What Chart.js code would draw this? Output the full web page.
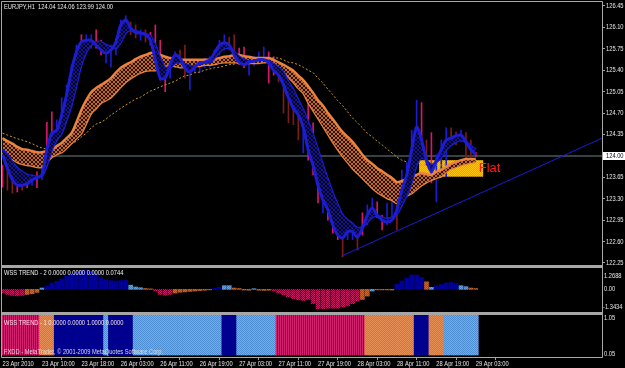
<!DOCTYPE html>
<html>
<head>
<meta charset="utf-8">
<script src="https://cdn.jsdelivr.net/npm/chart.js@4.4.0/dist/chart.umd.min.js"></script>
<style>
html, body { margin: 0; padding: 0; background: #000; }
#wrap { position: relative; width: 625px; height: 368px; background: #000; overflow: hidden; }
.pane { position: absolute; left: 0; }
.sep { position: absolute; left: 1px; width: 602px; background: #a6a6a6; }
</style>
</head>
<body>
<div id="wrap">
  <canvas id="mainChart" class="pane" style="top:0" width="625" height="265"></canvas>
  <div class="sep" style="top:265px;height:3px"></div>
  <canvas id="histChart" class="pane" style="top:268px" width="625" height="44"></canvas>
  <div class="sep" style="top:312px;height:3px"></div>
  <canvas id="bandChart" class="pane" style="top:315px" width="625" height="53"></canvas>
</div>
<script>
// EURJPY H1, 23 Apr 2010 02:00 .. 29 Apr 03:00, one entry per bar
const xLabels = ['23 Apr 2010', '23 Apr 10:00', '23 Apr 18:00', '26 Apr 03:00', '26 Apr 11:00', '26 Apr 19:00',
  '27 Apr 03:00', '27 Apr 11:00', '27 Apr 19:00', '28 Apr 03:00', '28 Apr 11:00', '28 Apr 19:00', '29 Apr 03:00'];
const xLabelBars = [0, 8, 16, 24, 32, 40, 48, 56, 64, 72, 80, 88, 96];
const xMin = -0.1, xMax = 121.6;

const yTicks = [126.45, 126.10, 125.75, 125.40, 125.05, 124.70, 124.35, 124.00, 123.65, 123.30, 122.95, 122.60, 122.25];
const yMin = 122.217, yMax = 126.515;

// fast MA ribbon (blue), edges
const blueFast = [124.02,123.80,123.61,123.52,123.52,123.54,123.61,123.64,123.69,124.10,
  124.37,124.42,124.67,125.00,125.40,125.70,125.86,125.89,125.89,125.81,
  125.73,125.68,125.73,125.86,126.14,126.22,126.09,126.01,126.01,125.98,
  125.89,125.57,125.27,125.27,125.49,125.65,125.60,125.44,125.37,125.45,
  125.52,125.53,125.57,125.68,125.81,125.85,125.81,125.65,125.53,125.49,
  125.53,125.55,125.57,125.57,125.52,125.40,125.32,125.16,124.95,124.78,
  124.67,124.47,124.10,123.85,123.52,123.28,123.12,122.87,122.71,122.66,
  122.76,122.76,122.67,122.82,123.03,123.15,123.03,122.95,122.92,122.95,
  123.12,123.44,123.69,124.10,124.47,124.26,123.93,123.74,123.93,124.10,
  124.26,124.29,124.33,124.34,124.23,124.10,124.02];
const blueSlow = [124.10,124.02,123.90,123.80,123.74,123.69,123.67,123.66,123.67,123.85,
  124.10,124.26,124.37,124.59,124.83,125.16,125.49,125.70,125.81,125.86,
  125.86,125.81,125.78,125.76,125.86,126.01,126.06,126.04,126.01,125.99,
  125.96,125.81,125.60,125.44,125.44,125.52,125.53,125.50,125.47,125.47,
  125.50,125.52,125.53,125.60,125.70,125.76,125.76,125.70,125.62,125.57,
  125.55,125.55,125.57,125.57,125.55,125.50,125.44,125.36,125.21,125.08,
  124.91,124.75,124.55,124.34,124.10,123.85,123.61,123.39,123.20,123.03,
  122.95,122.89,122.82,122.84,122.92,123.00,123.02,122.99,122.97,122.99,
  123.05,123.20,123.36,123.57,123.85,123.97,123.93,123.85,123.90,123.98,
  124.10,124.18,124.23,124.26,124.23,124.16,124.10];

// slow MA ribbon (orange), edges
const orangeTop = [124.29,124.24,124.20,124.15,124.11,124.10,124.08,124.06,124.06,124.08,
  124.11,124.16,124.21,124.29,124.37,124.55,124.75,124.91,125.04,125.11,
  125.16,125.21,125.27,125.36,125.44,125.49,125.53,125.58,125.62,125.65,
  125.68,125.68,125.65,125.62,125.60,125.58,125.57,125.57,125.57,125.57,
  125.57,125.57,125.57,125.58,125.60,125.62,125.63,125.65,125.65,125.63,
  125.62,125.60,125.60,125.60,125.60,125.57,125.53,125.49,125.44,125.39,
  125.31,125.24,125.14,125.03,124.91,124.82,124.70,124.60,124.49,124.39,
  124.31,124.23,124.13,124.02,123.93,123.87,123.80,123.75,123.69,123.64,
  123.57,123.59,123.62,123.66,123.69,123.72,123.70,123.69,123.74,123.77,
  123.82,123.87,123.90,123.93,123.95,123.95,123.95];
const orangeBot = [124.05,124.00,123.95,123.90,123.87,123.85,123.84,123.82,123.82,123.90,
  123.98,124.03,124.06,124.13,124.21,124.29,124.37,124.54,124.70,124.78,
  124.87,124.91,124.96,125.04,125.13,125.21,125.27,125.32,125.36,125.39,
  125.40,125.40,125.44,125.47,125.49,125.47,125.45,125.45,125.45,125.47,
  125.47,125.49,125.49,125.50,125.52,125.53,125.53,125.53,125.53,125.53,
  125.52,125.52,125.52,125.53,125.53,125.49,125.44,125.37,125.29,125.21,
  125.11,125.03,124.88,124.75,124.62,124.49,124.36,124.23,124.11,124.00,
  123.90,123.80,123.72,123.64,123.56,123.48,123.41,123.36,123.31,123.28,
  123.23,123.28,123.35,123.39,123.46,123.52,123.57,123.61,123.64,123.67,
  123.74,123.79,123.82,123.85,123.87,123.89,123.90];

// very slow MA (dotted)
const slowMA = [124.37,124.34,124.31,124.28,124.26,124.23,124.20,124.16,124.13,124.11,
  124.10,124.11,124.13,124.16,124.20,124.24,124.31,124.37,124.46,124.52,
  124.55,124.60,124.67,124.72,124.78,124.83,124.88,124.93,124.96,125.01,
  125.06,125.09,125.13,125.16,125.19,125.22,125.27,125.31,125.32,125.36,
  125.37,125.40,125.42,125.44,125.45,125.47,125.49,125.50,125.52,125.53,
  125.55,125.57,125.57,125.58,125.60,125.60,125.60,125.57,125.53,125.52,
  125.49,125.45,125.40,125.36,125.27,125.19,125.09,125.00,124.90,124.82,
  124.72,124.62,124.54,124.46,124.37,124.31,124.24,124.18,124.11,124.05,
  123.98,123.93,123.90,123.89,123.87,123.85,123.85,123.85,123.85,123.85,
  123.87,123.87,123.89,123.89,123.90,123.90,123.90];

// bar highs / lows and bar colour (m magenta, d dark red, b blue)
const barHigh = [123.85,123.77,123.69,123.64,123.64,123.64,123.69,123.74,123.85,124.55,
  124.72,124.59,124.95,125.16,125.49,125.81,125.98,125.98,125.98,126.06,
  125.89,125.76,125.81,125.93,126.22,126.29,126.19,126.14,126.06,126.06,
  126.02,126.14,125.89,125.37,125.57,125.70,125.73,125.81,125.49,125.54,
  125.57,125.60,125.62,125.73,125.89,125.98,125.94,125.98,125.76,125.78,
  125.57,125.63,125.70,125.78,125.70,125.62,125.49,125.24,125.00,124.83,
  124.72,124.55,124.87,124.54,123.69,123.36,123.28,123.07,122.87,122.74,
  122.95,122.87,122.79,123.07,123.20,123.31,123.25,123.03,123.23,123.28,
  123.20,123.77,123.89,124.42,124.91,124.87,124.26,124.38,124.02,124.26,
  124.46,124.46,124.39,124.42,124.38,124.26,124.06];
const barLow = [123.49,123.44,123.39,123.41,123.44,123.48,123.52,123.48,123.61,123.93,
  124.26,124.34,124.51,124.83,125.08,125.40,125.65,125.76,125.76,125.76,
  125.65,125.52,125.45,125.65,125.89,126.06,125.98,125.93,125.89,125.86,
  125.81,125.49,125.24,125.05,125.27,125.44,125.44,125.27,125.08,125.37,
  125.36,125.44,125.45,125.57,125.65,125.73,125.73,125.62,125.49,125.44,
  125.32,125.47,125.52,125.52,125.19,125.32,125.21,124.70,124.54,124.51,
  124.26,124.05,123.93,123.69,123.23,123.07,122.95,122.74,122.63,122.35,
  122.63,122.63,122.46,122.71,122.87,123.00,122.99,122.79,122.87,123.00,
  122.79,123.36,123.49,123.69,124.26,124.10,123.85,123.56,123.25,123.74,
  123.66,124.18,124.18,124.23,123.93,123.98,123.99];
const barKind = ('mddmdmbmbm' + 'mbbbbbmbbm' + 'mbbbbbddbd' + 'mmmmbbddbb' + 'bbbbbbddmm' +
  'bbbbmmdddd' + 'dbmmmbmmmd' + 'bbdmbbmmbb' + 'dbbbbmdmbb' + 'bddbddm').split('');

const currentPrice = 124.00;
const trendX = [68.7, 121.6];
const trendY = [122.36, 124.29];
const flatStart = 84.5, flatEnd = 97.5, flatHigh = 123.93, flatLow = 123.66;
const flatTextBar = 96.6, flatTextPrice = 123.73;

// WSS TREND - 2 histogram
const histMin = -1.3434, histMax = 1.2688;
const histVals = [-0.20,-0.30,-0.36,-0.38,-0.36,-0.30,-0.26,-0.18,0.08,0.20,
  0.38,0.48,0.62,0.78,0.92,1.02,1.10,1.12,1.08,0.95,
  0.70,0.58,0.52,0.50,0.52,0.55,0.25,0.14,0.10,0.05,
  0.03,-0.08,-0.30,-0.35,-0.30,-0.22,-0.17,-0.15,-0.12,-0.10,
  -0.07,-0.05,-0.03,0.06,0.12,0.22,0.22,0.08,0.05,-0.04,
  -0.05,0.04,-0.05,-0.06,-0.05,-0.10,-0.22,-0.32,-0.45,-0.55,
  -0.62,-0.66,-0.60,-0.85,-1.15,-1.15,-1.12,-1.12,-1.12,-1.05,
  -0.98,-0.85,-0.70,-0.60,-0.40,-0.10,-0.03,-0.03,-0.03,-0.04,
  0.30,0.50,0.68,0.85,0.85,0.72,0.45,0.12,0.22,0.28,
  0.38,0.42,0.36,0.22,0.16,0.08,0.05];
const histKind = ('mmmmm' + 'ooo' + 'l' + 'nnnnnnnnnnnnnnnnn' + 'lll' + 'oo' + 'mmmm' + 'oooooooo' +
  'nn' + 'll' + 'oooo' + 'l' + 'ooo' + 'mmmmmmmmmmmmmmmmmm' + 'oo' + 'l' + 'oooo' + 'nnnnnn' +
  'o' + 'l' + 'nnnnn' + 'll' + 'oo').split('');

// WSS TREND - 1 state bands
const bandLevel = 1;
const bandKind = ('mmmmmmmm' + 'ooo' + 'nnnnnnnnnn' + 'l' + 'nnnnn' + 'llllllllllllllllll' + 'nnn' +
  'llllllll' + 'mmmmmmmmmmmmmmmmmm' + 'oooooooooo' + 'nnn' + 'ooo' + 'lllllll').split('');

const FONT = '"Liberation Sans", Arial, sans-serif';
Chart.defaults.font.family = FONT;
Chart.defaults.font.size = 7;

function makePattern(rows) {
  const c = document.createElement('canvas');
  c.width = rows[0].length; c.height = rows.length;
  const g = c.getContext('2d');
  rows.forEach((row, y) => row.forEach((col, x) => { g.fillStyle = col; g.fillRect(x, y, 1, 1); }));
  return g.createPattern(c, 'repeat');
}
const checker = (a, b) => makePattern([[a, b], [b, a]]);
const stripes = (a, b) => makePattern([[a, b]]);
const cross = (a, b) => makePattern([[a, b, b, a], [b, a, a, b], [b, a, a, b], [a, b, b, a]]);

const bluePat = cross('#12129a', '#000008');
const orangePat = cross('#c06630', '#2a1206');
const flatPat = checker('#ffc414', '#f49a0c');
const barColors = { m: '#d4186c', d: '#7c1c16', b: '#1c1cd0' };
const histFill = { n: '#000098', l: checker('#66a6e6', '#3e7ec6'), o: checker('#cc6c34', '#9c4c1c'), m: checker('#cc1a68', '#3a0818') };
const bandFill = { n: '#00008e', l: checker('#72b0ea', '#4c8cd0'), o: checker('#d27238', '#e8925a'), m: stripes('#d2226e', '#86103e') };

const pts = arr => arr.map((v, i) => ({ x: i, y: v }));

// narrow small text, like the terminal's own font
function label(ctx, str, x, y, color) {
  ctx.save();
  ctx.font = '7px ' + FONT;
  ctx.fillStyle = color;
  ctx.textAlign = 'left';
  ctx.textBaseline = 'middle';
  ctx.translate(x, y);
  ctx.scale(0.82, 1);
  ctx.fillText(str, 0, 0);
  ctx.restore();
}

function frame(top, bottom) {
  return {
    id: 'frame',
    afterDraw(chart) {
      const { ctx, chartArea: a } = chart;
      ctx.save();
      ctx.strokeStyle = '#a8a8a8';
      ctx.lineWidth = 1;
      ctx.beginPath();
      const y0 = top ? a.top - 0.5 : 0;
      const y1 = bottom ? a.bottom + 0.5 : chart.height;
      ctx.moveTo(a.left - 0.5, y0); ctx.lineTo(a.left - 0.5, y1);
      ctx.moveTo(a.right + 0.5, y0); ctx.lineTo(a.right + 0.5, y1);
      if (top) { ctx.moveTo(a.left - 0.5, a.top - 0.5); ctx.lineTo(a.right + 0.5, a.top - 0.5); }
      if (bottom) { ctx.moveTo(a.left - 0.5, a.bottom + 0.5); ctx.lineTo(a.right + 0.5, a.bottom + 0.5); }
      ctx.stroke();
      ctx.restore();
    }
  };
}

const mainDecor = {
  id: 'mainDecor',
  beforeDatasetsDraw(chart) {
    const { ctx, scales: { x, y } } = chart;
    const l = x.getPixelForValue(flatStart), r = x.getPixelForValue(flatEnd);
    const t = y.getPixelForValue(flatHigh), b = y.getPixelForValue(flatLow);
    ctx.save();
    ctx.fillStyle = flatPat;
    ctx.fillRect(l, t, r - l, b - t);
    ctx.restore();
  },
  afterDatasetsDraw(chart) {
    const { ctx, scales: { x, y } } = chart;
    ctx.save();
    ctx.font = '13px ' + FONT;
    ctx.fillStyle = '#ff1c1c';
    ctx.textBaseline = 'alphabetic';
    ctx.fillText('Flat', x.getPixelForValue(flatTextBar), y.getPixelForValue(flatTextPrice));
    ctx.restore();
  },
  afterDraw(chart) {
    const { ctx, chartArea: a, scales: { y } } = chart;
    label(ctx, 'EURJPY,H1  124.04 124.06 123.99 124.00', a.left + 2, 7, '#ececec');
    yTicks.forEach(v => label(ctx, v.toFixed(2), a.right + 4, y.getPixelForValue(v), '#e6e6e6'));
    const py = Math.round(y.getPixelForValue(currentPrice));
    ctx.save();
    ctx.fillStyle = '#ffffff';
    ctx.fillRect(a.right + 1, py - 4, 22, 8);
    ctx.restore();
    label(ctx, currentPrice.toFixed(2), a.right + 4, py, '#000020');
  }
};

new Chart(document.getElementById('mainChart'), {
  type: 'line',
  data: {
    datasets: [
      { data: trendX.map((v, k) => ({ x: v, y: trendY[k] })), borderColor: '#1c1cd8', borderWidth: 1, pointRadius: 0, order: 1 },
      { data: pts(blueFast), borderColor: '#1c1cd0', borderWidth: 3, pointRadius: 0, tension: 0.3,
        fill: '+1', backgroundColor: bluePat, order: 2 },
      { data: pts(blueSlow), borderColor: '#1c1cd0', borderWidth: 2.5, pointRadius: 0, tension: 0.3, order: 3 },
      { data: pts(orangeTop), borderColor: '#ea8240', borderWidth: 2.5, pointRadius: 0, tension: 0.3,
        fill: '+1', backgroundColor: orangePat, order: 4 },
      { data: pts(orangeBot), borderColor: '#ea8240', borderWidth: 2.5, pointRadius: 0, tension: 0.3, order: 5 },
      { data: pts(slowMA), borderColor: '#d09a28', borderWidth: 1, borderDash: [2, 2], pointRadius: 0, order: 6 },
      { type: 'bar', data: barHigh.map((h, i) => ({ x: i, y: [barLow[i], h] })),
        backgroundColor: barKind.map(k => barColors[k]), barThickness: 1, borderWidth: 0, order: 7 },
      { data: [{ x: xMin, y: currentPrice }, { x: xMax, y: currentPrice }], borderColor: '#46595a',
        borderWidth: 1.5, pointRadius: 0, order: 8 }
    ]
  },
  options: {
    responsive: false,
    animation: false,
    events: [],
    layout: { padding: { left: 2, top: 2, right: 0, bottom: 0 } },
    plugins: { legend: { display: false }, tooltip: { enabled: false } },
    scales: {
      x: { type: 'linear', min: xMin, max: xMax, offset: false, display: false },
      y: {
        position: 'right', min: yMin, max: yMax,
        afterBuildTicks: s => { s.ticks = yTicks.map(v => ({ value: v })); },
        afterFit: s => { s.width = 23; s.paddingTop = 0; s.paddingBottom = 0; },
        grid: { drawOnChartArea: false, drawTicks: true, tickLength: 3, color: '#a0a0a0' },
        border: { display: false },
        ticks: { padding: 1, autoSkip: false, callback: () => '' }
      }
    }
  },
  plugins: [mainDecor, frame(true, false)]
});

const histDecor = {
  id: 'histDecor',
  afterDraw(chart) {
    const { ctx, chartArea: a, scales: { y } } = chart;
    label(ctx, 'WSS TREND - 2 0.0000 0.0000 0.0000 0.0744', a.left + 2, 5, '#f0f0f0');
    label(ctx, histMax.toFixed(4), a.right + 2, a.top + 8, '#e6e6e6');
    label(ctx, '0.00', a.right + 2, y.getPixelForValue(0), '#e6e6e6');
    label(ctx, histMin.toFixed(4), a.right + 1, a.bottom - 5, '#e6e6e6');
  }
};

new Chart(document.getElementById('histChart'), {
  type: 'bar',
  data: {
    datasets: [{
      data: histVals.map((v, i) => ({ x: i, y: v })),
      backgroundColor: histKind.map(k => histFill[k]),
      barThickness: 4, borderWidth: 0
    }]
  },
  options: {
    responsive: false,
    animation: false,
    events: [],
    layout: { padding: { left: 2, top: 0, right: 23, bottom: 0 } },
    plugins: { legend: { display: false }, tooltip: { enabled: false } },
    scales: {
      x: { type: 'linear', min: xMin, max: xMax, offset: false, display: false },
      y: { min: histMin, max: histMax, display: false }
    }
  },
  plugins: [histDecor, frame(false, false)]
});

const bandDecor = {
  id: 'bandDecor',
  afterDraw(chart) {
    const { ctx, chartArea: a, scales: { x } } = chart;
    label(ctx, 'WSS TREND - 1 0.0000 0.0000 1.0000 0.0000', a.left + 2, 8, '#f4e4ec');
    label(ctx, 'FXDD - MetaTrader, \u00a9 2001-2009 MetaQuotes Software Corp.', a.left + 2, 37, '#dcdcdc');
    label(ctx, '1.05', a.right + 2, 3, '#e6e6e6');
    label(ctx, '0.05', a.right + 2, 39, '#e6e6e6');
    xLabels.forEach((s, k) => label(ctx, s, x.getPixelForValue(xLabelBars[k]), a.bottom + 7, '#e6e6e6'));
  }
};

new Chart(document.getElementById('bandChart'), {
  type: 'bar',
  data: {
    datasets: [{
      data: bandKind.map((k, i) => ({ x: i, y: bandLevel })),
      backgroundColor: bandKind.map(k => bandFill[k]),
      barThickness: 5, borderWidth: 0
    }]
  },
  options: {
    responsive: false,
    animation: false,
    events: [],
    layout: { padding: { left: 2, top: 0, right: 23, bottom: 0 } },
    plugins: { legend: { display: false }, tooltip: { enabled: false } },
    scales: {
      x: {
        type: 'linear', min: xMin, max: xMax, offset: false,
        afterBuildTicks: s => { s.ticks = xLabelBars.map(v => ({ value: v })); },
        afterFit: s => { s.height = 11; s.paddingLeft = 0; s.paddingRight = 0; },
        grid: { drawOnChartArea: false, drawTicks: true, tickLength: 3, color: '#a0a0a0' },
        border: { display: false },
        ticks: { padding: 0, autoSkip: false, maxRotation: 0, callback: () => '' }
      },
      y: { min: -0.05, max: 1.0, display: false }
    }
  },
  plugins: [bandDecor, frame(false, true)]
});
</script>
</body>
</html>
